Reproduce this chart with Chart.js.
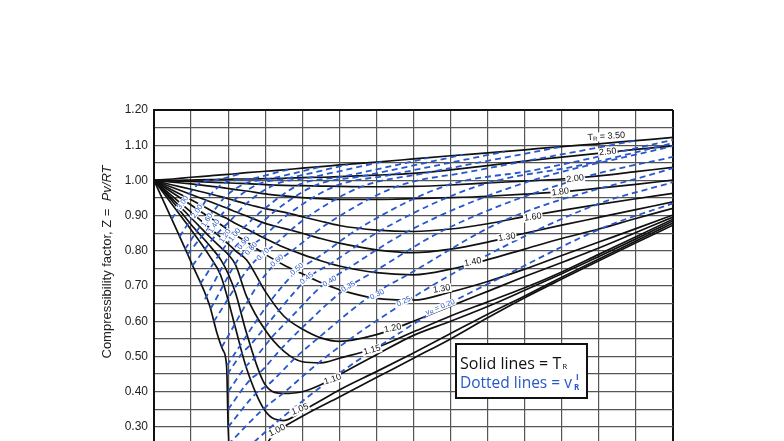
<!DOCTYPE html>
<html>
<head>
<meta charset="utf-8">
<script src="https://cdn.jsdelivr.net/npm/chart.js@4.4.1/dist/chart.umd.min.js"></script>
<style>
  html, body { margin: 0; padding: 0; background: #fff; }
</style>
</head>
<body>
<canvas id="zChart" width="784" height="441"></canvas>
<script>
// Reduced pressure grid shared by most isotherms
const prGrid = [0, 0.25, 0.5, 0.75, 0.9, 1, 1.1, 1.25, 1.5, 1.75, 2, 2.25, 2.5, 3, 3.5, 4, 4.5, 5, 5.5, 6, 6.5, 7];

// T_R = 1.00 needs its own grid (vertical drop at P_R = 1)
const pr100 = [0, 0.25, 0.5, 0.75, 0.85, 0.93, 0.98, 1.0, 1.03, 1.3, 1.6, 2, 2.5, 3, 3.5, 4, 4.5, 5, 5.5, 6, 6.5, 7];
const z100  = [1, 0.885, 0.768, 0.645, 0.566, 0.518, 0.47, 0.3, 0.2, 0.19, 0.275, 0.33, 0.385, 0.44, 0.495, 0.55, 0.61, 0.667, 0.72, 0.772, 0.823, 0.873];

// solid isotherms (Z on prGrid)
const z105 = [1, 0.93, 0.86, 0.785, 0.73, 0.66, 0.58, 0.465, 0.345, 0.318, 0.345, 0.375, 0.405, 0.457, 0.51, 0.565, 0.62, 0.672, 0.725, 0.777, 0.828, 0.879];
const z110 = [1, 0.94, 0.875, 0.815, 0.775, 0.735, 0.68, 0.565, 0.42, 0.395, 0.40, 0.42, 0.448, 0.505, 0.56, 0.60, 0.642, 0.688, 0.735, 0.784, 0.834, 0.885];
const z115 = [1, 0.947, 0.894, 0.84, 0.81, 0.79, 0.76, 0.67, 0.575, 0.515, 0.485, 0.482, 0.495, 0.525, 0.57, 0.615, 0.655, 0.695, 0.74, 0.79, 0.84, 0.89];
const z120 = [1, 0.955, 0.91, 0.865, 0.838, 0.82, 0.80, 0.774, 0.685, 0.615, 0.578, 0.553, 0.543, 0.562, 0.60, 0.643, 0.685, 0.727, 0.767, 0.808, 0.852, 0.896];
const z130 = [1, 0.965, 0.93, 0.895, 0.875, 0.86, 0.845, 0.825, 0.79, 0.76, 0.735, 0.71, 0.69, 0.665, 0.66, 0.683, 0.713, 0.748, 0.787, 0.825, 0.863, 0.902];
const z140 = [1, 0.972, 0.945, 0.917, 0.90, 0.89, 0.878, 0.862, 0.835, 0.81, 0.79, 0.772, 0.757, 0.738, 0.732, 0.748, 0.775, 0.805, 0.835, 0.862, 0.892, 0.921];
const z150 = [1, 0.98, 0.96, 0.94, 0.928, 0.92, 0.911, 0.899, 0.878, 0.864, 0.85, 0.835, 0.822, 0.803, 0.795, 0.805, 0.825, 0.85, 0.873, 0.895, 0.917, 0.939];
const z160 = [1, 0.987, 0.975, 0.962, 0.954, 0.948, 0.942, 0.933, 0.92, 0.91, 0.897, 0.884, 0.872, 0.859, 0.855, 0.862, 0.877, 0.897, 0.915, 0.932, 0.948, 0.963];
const z180 = [1, 0.995, 0.99, 0.984, 0.98, 0.977, 0.974, 0.97, 0.962, 0.956, 0.951, 0.948, 0.946, 0.946, 0.948, 0.951, 0.955, 0.961, 0.968, 0.978, 0.989, 1.001];
const z200 = [1, 0.999, 0.997, 0.995, 0.994, 0.993, 0.992, 0.991, 0.988, 0.986, 0.985, 0.984, 0.983, 0.982, 0.983, 0.987, 0.993, 0.998, 1.004, 1.013, 1.025, 1.037];
const z250 = [1, 1.0, 1.001, 1.002, 1.003, 1.003, 1.004, 1.004, 1.005, 1.006, 1.008, 1.009, 1.011, 1.015, 1.02, 1.03, 1.042, 1.055, 1.066, 1.077, 1.088, 1.098];
const z350 = [1, 1.004, 1.009, 1.013, 1.016, 1.017, 1.019, 1.022, 1.026, 1.03, 1.035, 1.039, 1.044, 1.052, 1.061, 1.07, 1.078, 1.087, 1.096, 1.104, 1.113, 1.122];

// dotted lines: pseudo-reduced volume v_R
const vr300P = [0.239, 0.373, 0.444, 0.52, 0.665, 0.834, 1.19];
const vr300Z = [0.89, 0.933, 0.951, 0.974, 0.997, 1.001, 1.021];
const vr200P = [0.345, 0.541, 0.65, 0.77, 0.997, 1.254, 1.806];
const vr200Z = [0.84, 0.902, 0.928, 0.962, 0.997, 1.003, 1.031];
const vr160P = [0.418, 0.66, 0.80, 0.952, 1.24, 1.57, 2.27];
const vr160Z = [0.805, 0.88, 0.912, 0.952, 0.992, 1.005, 1.04];
const vr140P = [0.453, 0.74, 0.90, 1.078, 1.414, 1.80, 2.614];
const vr140Z = [0.79, 0.865, 0.90, 0.943, 0.99, 1.006, 1.045];
const vr120P = [0.518, 0.849, 1.035, 1.245, 1.65, 2.1, 3.07];
const vr120Z = [0.758, 0.848, 0.887, 0.934, 0.99, 1.008, 1.053];
const vr100P = [0.624, 0.985, 1.21, 1.47, 1.98, 2.52, 3.7];
const vr100Z = [0.706, 0.82, 0.866, 0.916, 0.99, 1.01, 1.064];
const vr090P = [0.687, 1.075, 1.33, 1.62, 2.2, 2.81, 4.17];
const vr090Z = [0.663, 0.806, 0.854, 0.911, 0.988, 1.012, 1.073];
const vr080P = [0.764, 1.185, 1.47, 1.805, 2.46, 3.17, 4.73];
const vr080Z = [0.636, 0.79, 0.839, 0.903, 0.985, 1.015, 1.082];
const vr070P = [0.808, 1.30, 1.64, 2.03, 2.81, 3.64, 5.48];
const vr070Z = [0.60, 0.757, 0.82, 0.89, 0.983, 1.02, 1.095];
const vr060P = [0.915, 1.43, 1.67, 1.86, 2.34, 3.28, 4.27, 6.49];
const vr060Z = [0.527, 0.712, 0.77, 0.80, 0.877, 0.983, 1.025, 1.113];
const vr050P = [0.985, 1.58, 1.93, 2.18, 2.76, 3.94, 5.15, 7];
const vr050Z = [0.475, 0.66, 0.743, 0.777, 0.863, 0.985, 1.03, 1.115];
const vr045P = [0.99, 1.19, 1.305, 1.485, 1.68, 2.1, 2.37, 3.05, 4.38, 5.8, 7];
const vr045Z = [0.45, 0.51, 0.534, 0.58, 0.63, 0.727, 0.762, 0.857, 0.985, 1.045, 1.106];
const vr040P = [1.0, 1.24, 1.37, 1.6, 1.81, 2.3, 2.63, 3.42, 4.95, 7];
const vr040Z = [0.40, 0.472, 0.498, 0.557, 0.603, 0.707, 0.752, 0.855, 0.99, 1.098];
const vr035P = [1.0, 1.31, 1.43, 1.72, 1.99, 2.55, 2.96, 3.94, 5.75, 7];
const vr035Z = [0.35, 0.437, 0.455, 0.523, 0.58, 0.687, 0.74, 0.862, 1.006, 1.067];
const vr030P = [1.0, 1.39, 1.54, 1.91, 2.23, 2.9, 3.43, 4.72, 7];
const vr030Z = [0.30, 0.398, 0.42, 0.497, 0.555, 0.669, 0.733, 0.886, 1.035];
const vr025P = [1.0, 1.47, 1.75, 2.22, 2.62, 3.44, 4.27, 5.95, 7];
const vr025Z = [0.25, 0.35, 0.397, 0.482, 0.546, 0.661, 0.763, 0.93, 0.995];
const vr020P = [1.05, 1.68, 2.45, 3.0, 3.72, 4.8, 6.05, 7];
const vr020Z = [0.2, 0.318, 0.445, 0.524, 0.62, 0.737, 0.865, 0.935];

// y tick values (labels every 0.10, lines every 0.05)
const zTicks = [0.30, 0.35, 0.40, 0.45, 0.50, 0.55, 0.60, 0.65, 0.70, 0.75, 0.80, 0.85, 0.90, 0.95, 1.00, 1.05, 1.10, 1.15, 1.20];

// curve labels: text, P_R, Z, angle
const solidLabelText = ['T|R| = 3.50', '2.50', '2.00', '1.80', '1.60', '1.30', '1.40', '1.30', '1.20', '1.15', '1.10', '1.05', '1.00'];
const solidLabelP    = [6.1, 6.12, 5.68, 5.48, 5.11, 4.76, 4.30, 3.88, 3.22, 2.94, 2.41, 1.97, 1.66];
const solidLabelZ    = [1.125, 1.081, 1.005, 0.967, 0.896, 0.839, 0.768, 0.692, 0.58, 0.518, 0.435, 0.35, 0.29];
const solidLabelRot  = [-4, -6, -7, -7, -8, -9, -11, -9, -12, -15, -18, -22, -26];

const dotLabelText = ['3.00', '2.00', '1.60', '1.40', '1.20', '1.00', '0.90', '0.80', '0.70', '0.60', '0.50', '0.45', '0.40', '0.35', '0.30', '0.25', 'v|R| = 0.20'];
const dotLabelP    = [0.39, 0.58, 0.715, 0.81, 0.96, 1.09, 1.21, 1.31, 1.47, 1.66, 1.93, 2.06, 2.37, 2.62, 3.01, 3.37, 3.86];
const dotLabelZ    = [0.937, 0.912, 0.887, 0.87, 0.842, 0.845, 0.822, 0.806, 0.79, 0.772, 0.748, 0.722, 0.713, 0.698, 0.676, 0.656, 0.64];
const dotLabelRot  = [-56, -56, -56, -56, -56, -52, -50, -48, -46, -42, -40, -38, -32, -30, -27, -25, -22];

const solidSeries = [
    [pr100, z100], [prGrid, z105], [prGrid, z110], [prGrid, z115], [prGrid, z120], [prGrid, z130],
    [prGrid, z140], [prGrid, z150], [prGrid, z160], [prGrid, z180], [prGrid, z200], [prGrid, z250], [prGrid, z350],
];
const dottedSeries = [
    [vr300P, vr300Z], [vr200P, vr200Z], [vr160P, vr160Z], [vr140P, vr140Z], [vr120P, vr120Z], [vr100P, vr100Z],
    [vr090P, vr090Z], [vr080P, vr080Z], [vr070P, vr070Z], [vr060P, vr060Z], [vr050P, vr050Z], [vr045P, vr045Z],
    [vr040P, vr040Z], [vr035P, vr035Z], [vr030P, vr030Z], [vr025P, vr025Z], [vr020P, vr020Z],
];

const BLUE = '#2757c9';
const toPoints = (p, z) => p.map((v, i) => ({ x: v, y: z[i] }));

const datasets = [];
dottedSeries.forEach(([p, z]) => datasets.push({
    data: toPoints(p, z),
    borderColor: BLUE,
    borderWidth: 1.8,
    borderDash: [6, 4],
    pointRadius: 0,
    cubicInterpolationMode: 'monotone',
    fill: false,
}));
solidSeries.forEach(([p, z]) => datasets.push({
    data: toPoints(p, z),
    borderColor: '#111',
    borderWidth: 1.7,
    pointRadius: 0,
    cubicInterpolationMode: 'monotone',
    fill: false,
}));

// text with "|sub|" segments drawn as small subscripts
function richWidth(ctx, text, font, small) {
    let w = 0;
    text.split('|').forEach((s, i) => { ctx.font = i % 2 ? small : font; w += ctx.measureText(s).width; });
    return w;
}
function drawLabel(ctx, text, px, py, rot, font, small, color, h) {
    ctx.save();
    ctx.translate(px, py);
    ctx.rotate(rot * Math.PI / 180);
    const w = richWidth(ctx, text, font, small);
    ctx.fillStyle = '#fff';
    ctx.fillRect(-w / 2 - 1, -h / 2, w + 2, h);
    ctx.fillStyle = color;
    ctx.textBaseline = 'middle';
    ctx.textAlign = 'left';
    let x = -w / 2;
    text.split('|').forEach((s, i) => {
        ctx.font = i % 2 ? small : font;
        ctx.fillText(s, x, i % 2 ? 2 : 0);
        x += ctx.measureText(s).width;
    });
    ctx.restore();
}

const overlayPlugin = {
    id: 'overlay',
    afterDatasetsDraw(chart) {
        const { ctx, scales: { x, y } } = chart;
        solidLabelText.forEach((t, i) => {
            drawLabel(ctx, t, x.getPixelForValue(solidLabelP[i]), y.getPixelForValue(solidLabelZ[i]),
                solidLabelRot[i], '9px Arial', '6px Arial', '#111', 9);
        });
        dotLabelText.forEach((t, i) => {
            drawLabel(ctx, t, x.getPixelForValue(dotLabelP[i]), y.getPixelForValue(dotLabelZ[i]),
                dotLabelRot[i], '7.5px Arial', '5.5px Arial', BLUE, 7);
        });

        // legend box
        ctx.save();
        ctx.fillStyle = '#fff';
        ctx.fillRect(456, 344, 131, 54);
        ctx.strokeStyle = '#111';
        ctx.lineWidth = 2;
        ctx.strokeRect(456, 344, 131, 54);
        ctx.textBaseline = 'alphabetic';
        ctx.font = '16px "Open Sans"';
        ctx.fillStyle = '#111';
        ctx.fillText('Solid lines = T', 460, 369);
        let w = ctx.measureText('Solid lines = T').width;
        ctx.font = '8px "Open Sans"';
        ctx.fillText('R', 461 + w, 369);
        ctx.font = '15.5px "Open Sans"';
        ctx.fillStyle = BLUE;
        ctx.fillText('Dotted lines = v', 460, 388);
        w = ctx.measureText('Dotted lines = v').width;
        ctx.font = 'bold 8px "Open Sans"';
        ctx.fillText('I', 464 + w, 380);
        ctx.fillText('R', 462 + w, 390);
        ctx.restore();

        // y axis title with italic Pv/RT
        ctx.save();
        ctx.translate(107, 262);
        ctx.rotate(-Math.PI / 2);
        ctx.fillStyle = '#222';
        ctx.textBaseline = 'middle';
        const a = 'Compressibility factor, Z =  ';
        const b = 'Pv/RT';
        ctx.font = '13px Arial';
        const wa = ctx.measureText(a).width;
        ctx.font = 'italic 13px Arial';
        const wb = ctx.measureText(b).width;
        const x0 = -(wa + wb) / 2;
        ctx.font = '13px Arial';
        ctx.fillText(a, x0, 0);
        ctx.font = 'italic 13px Arial';
        ctx.fillText(b, x0 + wa, 0);
        ctx.restore();
    },
};

new Chart(document.getElementById('zChart'), {
    type: 'line',
    data: { datasets },
    options: {
        responsive: false,
        animation: false,
        layout: { padding: { left: 0, top: 110, right: 111, bottom: 0 } },
        plugins: { legend: { display: false }, tooltip: { enabled: false } },
        scales: {
            x: {
                type: 'linear',
                min: 0,
                max: 7,
                ticks: { display: false, stepSize: 0.5 },
                grid: {
                    drawTicks: false,
                    color: ctx => (ctx.tick && ctx.tick.value === 7 ? '#111' : '#555'),
                    lineWidth: ctx => (ctx.tick && ctx.tick.value === 7 ? 2 : 1.2),
                },
                border: { display: false },
                afterFit: s => { s.height = 0; s.paddingLeft = 0; s.paddingRight = 0; },
            },
            y: {
                min: 0.26,
                max: 1.2,
                afterBuildTicks: s => { s.ticks = zTicks.map(v => ({ value: v })); },
                ticks: {
                    padding: 6,
                    color: '#222',
                    font: { family: 'Arial', size: 12 },
                    callback: v => (Math.round(v * 100) % 10 === 0 ? v.toFixed(2) : ''),
                },
                grid: {
                    drawTicks: false,
                    color: ctx => (ctx.tick && ctx.tick.value === 1.2 ? '#111' : '#555'),
                    lineWidth: ctx => (ctx.tick && ctx.tick.value === 1.2 ? 2 : 1.2),
                },
                border: { display: true, color: '#111', width: 2 },
                afterFit: s => { s.width = 154; s.paddingTop = 0; s.paddingBottom = 0; },
            },
        },
    },
    plugins: [overlayPlugin],
});
</script>
</body>
</html>
